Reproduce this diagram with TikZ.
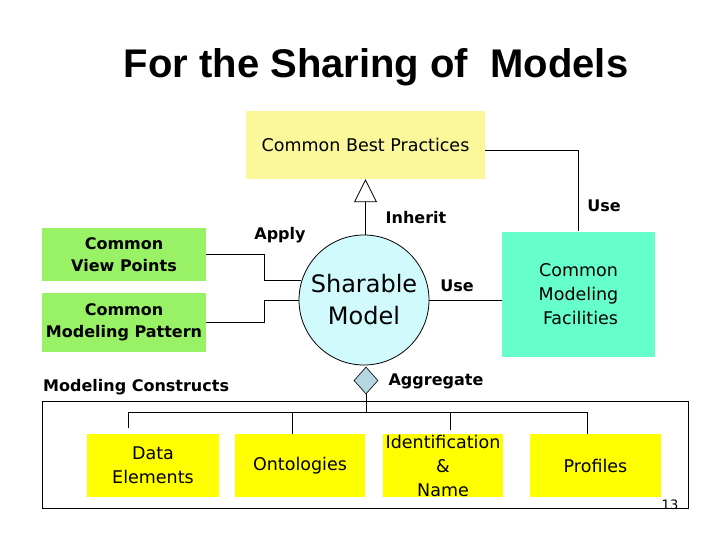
\documentclass[tikz,border=0pt]{standalone}
\usepackage{fontspec}
\setmainfont{DejaVu Sans}
\newfontfamily\titlefont{Liberation Sans}
\usepackage{tikz}
\usetikzlibrary{arrows.meta,shapes.geometric}

\definecolor{bpyellow}{RGB}{251,247,155}
\definecolor{vpgreen}{RGB}{153,242,102}
\definecolor{cmfteal}{RGB}{102,255,204}
\definecolor{smcyan}{RGB}{208,250,252}
\definecolor{aggblue}{RGB}{180,215,225}
\definecolor{elyellow}{RGB}{255,255,0}

\begin{document}
\begin{tikzpicture}[
  x=1pt, y=-1pt,
  every node/.style={inner sep=0pt},
  box/.style={align=center, font=\fontsize{17.5}{24}\selectfont},
  greenbox/.style={fill=vpgreen, align=center, minimum width=164pt, font=\bfseries\fontsize{16}{22}\selectfont},
  yelbox/.style={fill=elyellow, minimum height=63pt, inner ysep=-2pt, align=center, font=\fontsize{17.5}{24}\selectfont},
  tag/.style={font=\bfseries\fontsize{16}{18}\selectfont},
  conn/.style={line width=0.8pt},
  inh/.style={conn, -{Triangle[open, length=23pt, width=23pt]}}
]
\useasboundingbox (0,0) rectangle (720,540);

\node[font=\titlefont\bfseries\fontsize{40}{48}\selectfont, anchor=base] (title) at (376,78) {For the Sharing of~~Models};

\node[box, fill=bpyellow, minimum width=239pt, minimum height=68pt] (cbp) at (365.5,145) {Common Best Practices};
\node[circle, draw, line width=0.8pt, fill=smcyan, minimum size=130pt, align=center, font=\fontsize{24}{32}\selectfont] (sm) at (364,300) {Sharable\\Model};
\node[greenbox, minimum height=53pt] (vp) at (124,254.5) {Common\\View Points};
\node[greenbox, minimum height=59pt] (mp) at (124,322.5) {Common\\Modeling Pattern};
\node[box, fill=cmfteal, minimum width=153pt, minimum height=125pt] (cmf) at (578.5,294) {Common\\Modeling\\\hspace*{4pt}Facilities};
\node[diamond, draw, line width=0.6pt, fill=aggblue, minimum width=24pt, minimum height=27pt] (agg) at (366,380.5) {};

% modeling constructs frame
\node[draw, line width=0.8pt, minimum width=646pt, minimum height=107pt] (mcf) at (365,454.5) {};
\node[tag, anchor=west] (mc) at (43,387) {Modeling Constructs};
\node[yelbox, minimum width=132pt] (de) at (153,465.5) {Data\\Elements};
\node[yelbox, minimum width=130pt] (on) at (300,465.5) {Ontologies};
\node[yelbox, minimum width=120pt] (idn) at (443,465.5) {Identification\\\&\\Name};
\node[yelbox, minimum width=131pt] (pr) at (595.5,465.5) {Profiles};
\node[font=\fontsize{13}{14}\selectfont, anchor=base] (pg) at (670,509) {13};

% labels
\node[tag] (ap) at (280,235) {Apply};
\node[tag] (ih) at (416,218) {Inherit};
\node[tag] (ut) at (604,206) {Use};
\node[tag] (um) at (457,286) {Use};
\node[tag] (ag) at (436,381) {Aggregate};

\draw[conn] (vp.east) -- ++(58,0) |- (sm.163);
\draw[conn] (mp.east) -- ++(58,0) |- (sm.west);
\draw[inh] (cbp.south |- sm.north) -- (cbp.south);
\draw[conn] ([yshift=-5pt]cbp.east) -| (cmf.north);
\draw[conn] (sm.east) -- (sm.east -| cmf.west);

\coordinate (bus) at (366,412);
\draw[conn] (agg.south) -- (bus);
\draw[conn] (128,412) -- (587,412);
\foreach \n/\x/\g in {de/128/6, on/292/0, idn/450/4, pr/587/0}{
  \coordinate (bus\n) at (\x,412);
  \draw[conn, shorten >=\g pt] (bus\n) -- (bus\n |- \n.north);
}
\end{tikzpicture}
\end{document}
